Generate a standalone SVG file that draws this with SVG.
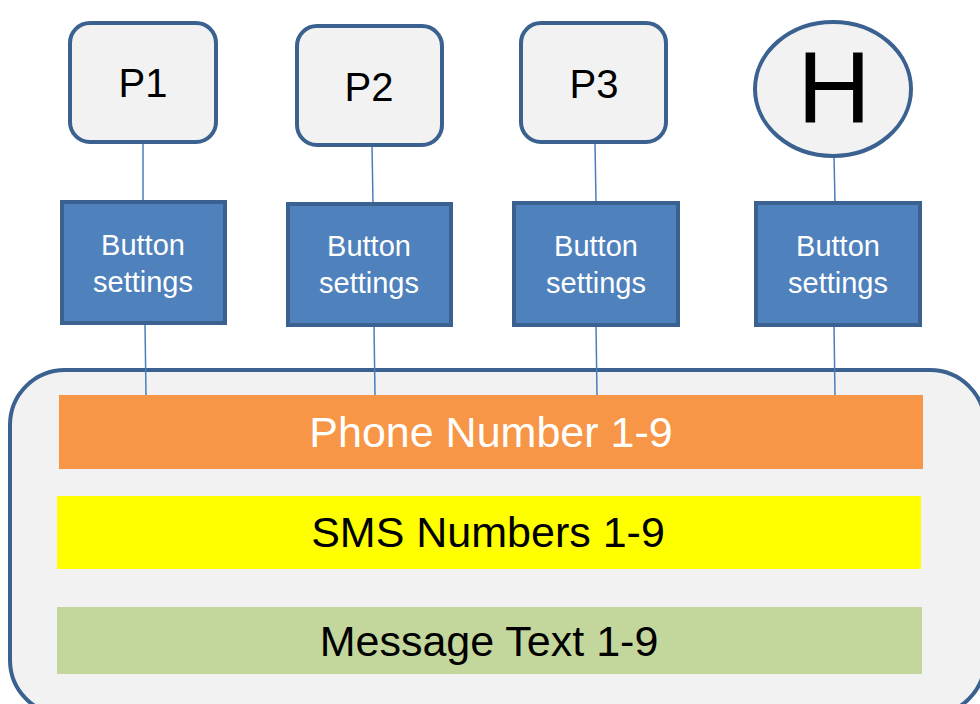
<svg xmlns="http://www.w3.org/2000/svg" width="980" height="704" viewBox="0 0 980 704">
<style>
.pbox{fill:#F2F2F2;stroke:#3A6190;stroke-width:4}
.btn{fill:#4F81BD;stroke:#3A6190;stroke-width:4}
.lbl{font-family:"Liberation Sans",Arial,sans-serif;text-anchor:middle}
.btxt{font-size:29px;fill:#FFFFFF}
.ptxt{font-size:40px;fill:#000000}
.bar{font-size:43px}
.conn line{stroke:#4A7EBB;stroke-width:1.5}
</style>
<rect width="980" height="704" fill="#FFFFFF"/>
<g id="container">
<rect x="10" y="370" width="975" height="345" rx="55" ry="55" fill="#F2F2F2" stroke="#3A6190" stroke-width="4"/>
</g>
<g id="connectors" class="conn">
<line x1="143" y1="142" x2="143" y2="202"/>
<line x1="145" y1="323" x2="146" y2="395"/>
<line x1="372" y1="145" x2="373" y2="204"/>
<line x1="374" y1="325" x2="375" y2="395"/>
<line x1="595" y1="142" x2="596" y2="203"/>
<line x1="596" y1="325" x2="597" y2="395"/>
<line x1="834" y1="156" x2="835" y2="203"/>
<line x1="834" y1="325" x2="835" y2="396"/>
</g>
<g id="p1"><rect class="pbox" x="70" y="23" width="146" height="119" rx="20"/><text class="lbl ptxt" x="143" y="97">P1</text></g>
<g id="p2"><rect class="pbox" x="297" y="26" width="145" height="119" rx="20"/><text class="lbl ptxt" x="369" y="101">P2</text></g>
<g id="p3"><rect class="pbox" x="521" y="23" width="145" height="119" rx="20"/><text class="lbl ptxt" x="594" y="98">P3</text></g>
<g id="h"><ellipse class="pbox" cx="833" cy="89" rx="78" ry="67"/><text class="lbl" x="834" y="123" font-size="102" fill="#000000">H</text></g>
<g id="btn1"><rect class="btn" x="62" y="202" width="163" height="121"/><text class="lbl btxt" x="143" y="255">Button</text><text class="lbl btxt" x="143" y="292">settings</text></g>
<g id="btn2"><rect class="btn" x="288" y="204" width="163" height="121"/><text class="lbl btxt" x="369" y="256">Button</text><text class="lbl btxt" x="369" y="293">settings</text></g>
<g id="btn3"><rect class="btn" x="514" y="203" width="164" height="122"/><text class="lbl btxt" x="596" y="256">Button</text><text class="lbl btxt" x="596" y="293">settings</text></g>
<g id="btn4"><rect class="btn" x="756" y="203" width="164" height="122"/><text class="lbl btxt" x="838" y="256">Button</text><text class="lbl btxt" x="838" y="293">settings</text></g>
<g id="phone"><rect x="59" y="395" width="864" height="74" fill="#F79646"/><text class="lbl bar" x="491" y="447" fill="#FFFFFF">Phone Number 1-9</text></g>
<g id="sms"><rect x="57" y="496" width="864" height="73" fill="#FFFF00"/><text class="lbl bar" x="488" y="547" fill="#000000">SMS Numbers 1-9</text></g>
<g id="message"><rect x="57" y="607" width="865" height="67" fill="#C3D69B"/><text class="lbl bar" x="489" y="656" fill="#000000">Message Text 1-9</text></g>
</svg>
